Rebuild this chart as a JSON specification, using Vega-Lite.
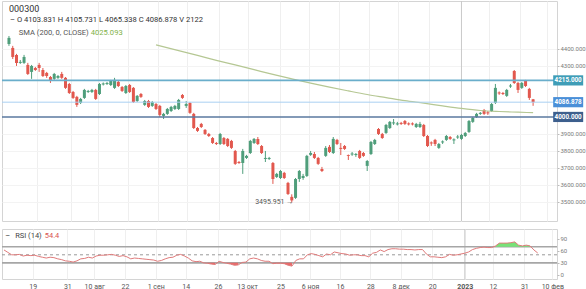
{
"$schema": "https://vega.github.io/schema/vega-lite/v6.json",
"padding": 0,
"background": "#ffffff",
"spacing": 6,
"config": {"font": "Roboto", "view": {"stroke": "#d4d4d4", "strokeWidth": 1}, "axis": {"labelFont": "Roboto", "gridColor": "#efefef", "gridWidth": 1, "labelOverlap": false}},
"datasets": {"k": [
{"i":0,"o":4429,"h":4476,"l":4418,"c":4465,"r":62},
{"i":1,"o":4406,"h":4418,"l":4341,"c":4353,"r":56},
{"i":2,"o":4365,"h":4371,"l":4300,"c":4318,"r":50},
{"i":3,"o":4318,"h":4335,"l":4312,"c":4324,"r":50},
{"i":4,"o":4318,"h":4365,"l":4312,"c":4353,"r":51},
{"i":5,"o":4306,"h":4318,"l":4247,"c":4253,"r":47},
{"i":6,"o":4265,"h":4306,"l":4224,"c":4300,"r":49},
{"i":7,"o":4288,"h":4294,"l":4271,"c":4276,"r":48},
{"i":8,"o":4306,"h":4318,"l":4265,"c":4288,"r":49},
{"i":9,"o":4276,"h":4288,"l":4235,"c":4241,"r":46},
{"i":10,"o":4259,"h":4265,"l":4230,"c":4241,"r":44},
{"i":11,"o":4235,"h":4241,"l":4200,"c":4212,"r":42},
{"i":12,"o":4224,"h":4259,"l":4218,"c":4253,"r":44},
{"i":13,"o":4230,"h":4247,"l":4224,"c":4241,"r":43},
{"i":14,"o":4253,"h":4265,"l":4224,"c":4230,"r":40},
{"i":15,"o":4230,"h":4235,"l":4165,"c":4171,"r":38},
{"i":16,"o":4194,"h":4200,"l":4135,"c":4141,"r":35},
{"i":17,"o":4147,"h":4153,"l":4106,"c":4112,"r":34},
{"i":18,"o":4118,"h":4124,"l":4059,"c":4071,"r":32},
{"i":19,"o":4082,"h":4112,"l":4076,"c":4106,"r":35},
{"i":20,"o":4112,"h":4165,"l":4106,"c":4159,"r":40},
{"i":21,"o":4147,"h":4159,"l":4141,"c":4153,"r":41},
{"i":22,"o":4147,"h":4165,"l":4141,"c":4159,"r":44},
{"i":23,"o":4159,"h":4165,"l":4100,"c":4106,"r":42},
{"i":24,"o":4135,"h":4200,"l":4129,"c":4194,"r":47},
{"i":25,"o":4191,"h":4203,"l":4185,"c":4197,"r":49},
{"i":26,"o":4194,"h":4206,"l":4188,"c":4200,"r":49},
{"i":27,"o":4188,"h":4218,"l":4182,"c":4212,"r":50},
{"i":28,"o":4171,"h":4230,"l":4165,"c":4218,"r":51},
{"i":29,"o":4206,"h":4212,"l":4176,"c":4182,"r":49},
{"i":30,"o":4176,"h":4182,"l":4147,"c":4153,"r":46},
{"i":31,"o":4141,"h":4188,"l":4135,"c":4182,"r":48},
{"i":32,"o":4188,"h":4194,"l":4141,"c":4147,"r":45},
{"i":33,"o":4171,"h":4176,"l":4082,"c":4088,"r":40},
{"i":34,"o":4094,"h":4129,"l":4088,"c":4124,"r":42},
{"i":35,"o":4135,"h":4141,"l":4112,"c":4118,"r":41},
{"i":36,"o":4071,"h":4100,"l":4065,"c":4094,"r":40},
{"i":37,"o":4094,"h":4100,"l":4053,"c":4059,"r":39},
{"i":38,"o":4065,"h":4094,"l":4059,"c":4088,"r":38},
{"i":39,"o":4076,"h":4082,"l":4041,"c":4047,"r":37,"s":4423.5},
{"i":40,"o":4065,"h":4071,"l":4000,"c":4012,"r":34},
{"i":41,"o":4006,"h":4024,"l":3988,"c":4018,"r":36},
{"i":42,"o":4018,"h":4053,"l":4012,"c":4047,"r":40},
{"i":43,"o":4035,"h":4065,"l":4029,"c":4059,"r":43},
{"i":44,"o":4047,"h":4071,"l":4041,"c":4065,"r":44},
{"i":45,"o":4047,"h":4106,"l":4041,"c":4100,"r":49,"s":4390},
{"i":46,"o":4129,"h":4135,"l":4106,"c":4112,"r":51},
{"i":47,"o":4065,"h":4094,"l":4053,"c":4076,"r":47},
{"i":48,"o":4082,"h":4088,"l":4018,"c":4024,"r":42},
{"i":49,"o":4018,"h":4024,"l":3929,"c":3935,"r":35},
{"i":50,"o":3935,"h":3941,"l":3912,"c":3918,"r":33,"s":4362},
{"i":51,"o":3959,"h":3965,"l":3935,"c":3941,"r":34},
{"i":52,"o":3924,"h":3929,"l":3894,"c":3900,"r":30},
{"i":53,"o":3900,"h":3906,"l":3882,"c":3888,"r":29},
{"i":54,"o":3876,"h":3882,"l":3841,"c":3847,"r":27},
{"i":55,"o":3847,"h":3853,"l":3835,"c":3841,"r":26,"s":4333},
{"i":56,"o":3841,"h":3906,"l":3835,"c":3900,"r":34},
{"i":57,"o":3876,"h":3882,"l":3835,"c":3841,"r":31},
{"i":58,"o":3871,"h":3876,"l":3823,"c":3829,"r":29},
{"i":59,"o":3859,"h":3865,"l":3812,"c":3818,"r":27},
{"i":60,"o":3800,"h":3806,"l":3718,"c":3724,"r":24,"s":4306},
{"i":61,"o":3735,"h":3741,"l":3724,"c":3729,"r":25},
{"i":62,"o":3729,"h":3812,"l":3665,"c":3800,"r":31},
{"i":63,"o":3759,"h":3777,"l":3753,"c":3771,"r":32},
{"i":64,"o":3788,"h":3865,"l":3782,"c":3859,"r":40},
{"i":65,"o":3847,"h":3876,"l":3841,"c":3871,"r":42,"s":4278},
{"i":66,"o":3871,"h":3882,"l":3835,"c":3841,"r":40},
{"i":67,"o":3829,"h":3835,"l":3782,"c":3788,"r":36},
{"i":68,"o":3753,"h":3800,"l":3735,"c":3759,"r":34},
{"i":69,"o":3753,"h":3765,"l":3747,"c":3759,"r":34},
{"i":70,"o":3729,"h":3735,"l":3606,"c":3635,"r":28,"s":4250},
{"i":71,"o":3647,"h":3671,"l":3641,"c":3665,"r":29},
{"i":72,"o":3641,"h":3688,"l":3635,"c":3682,"r":29},
{"i":73,"o":3671,"h":3677,"l":3635,"c":3641,"r":28},
{"i":74,"o":3612,"h":3618,"l":3541,"c":3547,"r":24},
{"i":75,"o":3530,"h":3545,"l":3496,"c":3509,"r":22,"s":4224},
{"i":76,"o":3524,"h":3641,"l":3518,"c":3635,"r":36},
{"i":77,"o":3635,"h":3688,"l":3618,"c":3682,"r":40},
{"i":78,"o":3641,"h":3665,"l":3630,"c":3653,"r":40},
{"i":79,"o":3653,"h":3777,"l":3647,"c":3771,"r":50},
{"i":80,"o":3777,"h":3800,"l":3771,"c":3788,"r":53,"s":4199},
{"i":81,"o":3782,"h":3794,"l":3753,"c":3759,"r":51},
{"i":82,"o":3759,"h":3765,"l":3718,"c":3724,"r":48},
{"i":83,"o":3694,"h":3706,"l":3676,"c":3682,"r":45},
{"i":84,"o":3771,"h":3829,"l":3765,"c":3818,"r":52},
{"i":85,"o":3824,"h":3835,"l":3788,"c":3794,"r":50,"s":4175},
{"i":86,"o":3788,"h":3882,"l":3782,"c":3871,"r":57},
{"i":87,"o":3865,"h":3871,"l":3835,"c":3841,"r":55},
{"i":88,"o":3818,"h":3847,"l":3776,"c":3812,"r":53},
{"i":89,"o":3829,"h":3835,"l":3806,"c":3812,"r":52},
{"i":90,"o":3776,"h":3779,"l":3747,"c":3771,"r":49,"s":4153},
{"i":91,"o":3779,"h":3794,"l":3771,"c":3785,"r":50},
{"i":92,"o":3776,"h":3788,"l":3765,"c":3782,"r":50},
{"i":93,"o":3800,"h":3806,"l":3753,"c":3759,"r":48},
{"i":94,"o":3788,"h":3794,"l":3765,"c":3771,"r":48},
{"i":95,"o":3712,"h":3747,"l":3682,"c":3741,"r":45,"s":4132},
{"i":96,"o":3782,"h":3859,"l":3776,"c":3853,"r":54},
{"i":97,"o":3841,"h":3871,"l":3835,"c":3865,"r":56},
{"i":98,"o":3929,"h":3935,"l":3894,"c":3900,"r":62},
{"i":99,"o":3900,"h":3906,"l":3871,"c":3876,"r":58},
{"i":100,"o":3906,"h":3959,"l":3900,"c":3953,"r":63,"s":4114},
{"i":101,"o":3935,"h":3976,"l":3929,"c":3971,"r":65},
{"i":102,"o":3962,"h":3988,"l":3953,"c":3968,"r":65},
{"i":103,"o":3956,"h":3971,"l":3950,"c":3962,"r":64},
{"i":104,"o":3965,"h":3971,"l":3953,"c":3959,"r":64},
{"i":105,"o":3976,"h":3982,"l":3953,"c":3959,"r":63,"s":4096},
{"i":106,"o":3962,"h":3968,"l":3950,"c":3956,"r":63},
{"i":107,"o":3962,"h":3968,"l":3950,"c":3956,"r":62},
{"i":108,"o":3941,"h":3965,"l":3935,"c":3959,"r":63},
{"i":109,"o":3941,"h":3971,"l":3935,"c":3959,"r":63},
{"i":110,"o":3953,"h":3959,"l":3882,"c":3888,"r":52,"s":4081},
{"i":111,"o":3888,"h":3894,"l":3823,"c":3829,"r":45},
{"i":112,"o":3850,"h":3856,"l":3830,"c":3844,"r":45},
{"i":113,"o":3865,"h":3871,"l":3829,"c":3841,"r":44},
{"i":114,"o":3818,"h":3847,"l":3812,"c":3841,"r":43},
{"i":115,"o":3850,"h":3862,"l":3841,"c":3856,"r":45,"s":4065},
{"i":116,"o":3865,"h":3894,"l":3859,"c":3888,"r":51},
{"i":117,"o":3882,"h":3888,"l":3865,"c":3871,"r":49},
{"i":118,"o":3862,"h":3874,"l":3841,"c":3868,"r":50},
{"i":119,"o":3879,"h":3894,"l":3871,"c":3885,"r":52},
{"i":120,"o":3871,"h":3900,"l":3865,"c":3894,"r":54,"s":4050},
{"i":121,"o":3888,"h":3912,"l":3882,"c":3906,"r":57},
{"i":122,"o":3912,"h":3982,"l":3906,"c":3976,"r":63},
{"i":123,"o":3971,"h":4000,"l":3965,"c":3994,"r":66},
{"i":124,"o":4000,"h":4024,"l":3994,"c":4018,"r":68},
{"i":125,"o":4018,"h":4029,"l":4012,"c":4024,"r":69,"s":4038},
{"i":126,"o":4041,"h":4047,"l":4012,"c":4018,"r":68},
{"i":127,"o":4027,"h":4035,"l":4012,"c":4021,"r":68},
{"i":128,"o":4035,"h":4082,"l":4029,"c":4076,"r":72},
{"i":129,"o":4082,"h":4194,"l":4076,"c":4171,"r":79},
{"i":130,"o":4144,"h":4150,"l":4130,"c":4138,"r":79,"s":4032},
{"i":131,"o":4141,"h":4147,"l":4129,"c":4135,"r":79},
{"i":132,"o":4124,"h":4165,"l":4118,"c":4159,"r":80},
{"i":133,"o":4179,"h":4194,"l":4171,"c":4185,"r":82},
{"i":134,"o":4271,"h":4276,"l":4194,"c":4200,"r":74},
{"i":135,"o":4200,"h":4206,"l":4141,"c":4159,"r":72,"s":4028},
{"i":136,"o":4171,"h":4206,"l":4165,"c":4200,"r":74},
{"i":137,"o":4212,"h":4218,"l":4176,"c":4182,"r":72},
{"i":138,"o":4165,"h":4171,"l":4100,"c":4112,"r":62},
{"i":139,"o":4103.831,"h":4105.731,"l":4065.338,"c":4086.878,"r":54.4,"s":4025.093}
]},
"vconcat": [
{
"width": 555, "height": 220,
"layer": [
{"data": {"values": [{}]}, "mark": {"type": "rule", "color": "#c9c9c9"},
 "encoding": {"x": {"datum": 120, "type": "quantitative", "scale": {"domain": [-0.521, 144.01], "nice": false, "zero": false}, "axis": {"values": [7.5,16.5,23.5,31.5,39.5,47.3,55.7,63.3,72,79.7,87.5,95.4,103.3,111.5,120,127.3,135.5,142.8], "labels": false, "ticks": false, "domain": false, "title": null, "grid": true, "labelOverlap": false}}}},
{"data": {"name": "k"}, "mark": {"type": "rule", "strokeWidth": 1},
 "encoding": {"x": {"field": "i", "type": "quantitative", "scale": {"domain": [-0.521, 144.01], "nice": false, "zero": false}, "axis": {"values": [7.5,16.5,23.5,31.5,39.5,47.3,55.7,63.3,72,79.7,87.5,95.4,103.3,111.5,120,127.3,135.5,142.8], "labels": false, "ticks": false, "domain": false, "title": null, "grid": true, "labelOverlap": false}},
   "y": {"field": "l", "type": "quantitative", "scale": {"domain": [3388, 4682], "nice": false, "zero": false}, "axis": {"orient": "right", "values": [3500,3600,3700,3800,3900,4300,4400], "format": ".3f", "title": null, "labelFontSize": 6, "labelColor": "#7a7a7a", "tickSize": 2, "tickColor": "#bbbbbb", "labelPadding": 1, "domain": false, "grid": true, "gridColor": "#f3f3f3", "labelOverlap": false}},
   "y2": {"field": "h"},
   "color": {"condition": {"test": "datum.c >= datum.o", "value": "#4f9e7b"}, "value": "#e2584e"}}},
{"data": {"name": "k"}, "mark": {"type": "bar", "size": 3},
 "encoding": {"x": {"field": "i", "type": "quantitative", "scale": {"domain": [-0.521, 144.01], "nice": false, "zero": false}, "axis": {"values": [7.5,16.5,23.5,31.5,39.5,47.3,55.7,63.3,72,79.7,87.5,95.4,103.3,111.5,120,127.3,135.5,142.8], "labels": false, "ticks": false, "domain": false, "title": null, "grid": true, "labelOverlap": false}},
   "y": {"field": "o", "type": "quantitative", "scale": {"domain": [3388, 4682], "nice": false, "zero": false}, "axis": {"orient": "right", "values": [3500,3600,3700,3800,3900,4300,4400], "format": ".3f", "title": null, "labelFontSize": 6, "labelColor": "#7a7a7a", "tickSize": 2, "tickColor": "#bbbbbb", "labelPadding": 1, "domain": false, "grid": true, "gridColor": "#f3f3f3", "labelOverlap": false}},
   "y2": {"field": "c"},
   "color": {"condition": {"test": "datum.c >= datum.o", "value": "#4f9e7b"}, "value": "#e2584e"}}},
{"data": {"name": "k"}, "mark": {"type": "line", "color": "#b5c793", "strokeWidth": 1.2, "interpolate": "monotone"},
 "transform": [{"filter": "isValid(datum.s)"}],
 "encoding": {"x": {"field": "i", "type": "quantitative", "scale": {"domain": [-0.521, 144.01], "nice": false, "zero": false}, "axis": {"values": [7.5,16.5,23.5,31.5,39.5,47.3,55.7,63.3,72,79.7,87.5,95.4,103.3,111.5,120,127.3,135.5,142.8], "labels": false, "ticks": false, "domain": false, "title": null, "grid": true, "labelOverlap": false}},
   "y": {"field": "s", "type": "quantitative", "scale": {"domain": [3388, 4682], "nice": false, "zero": false}, "axis": {"orient": "right", "values": [3500,3600,3700,3800,3900,4300,4400], "format": ".3f", "title": null, "labelFontSize": 6, "labelColor": "#7a7a7a", "tickSize": 2, "tickColor": "#bbbbbb", "labelPadding": 1, "domain": false, "grid": true, "gridColor": "#f3f3f3", "labelOverlap": false}}}},
{"data": {"values": [{"v": 4215, "t": "4215.000", "k": "a"}, {"v": 4086.878, "t": "4086.878", "k": "p"}, {"v": 4000, "t": "4000.000", "k": "b"}]},
 "mark": {"type": "rule"},
 "encoding": {"y": {"field": "v", "type": "quantitative", "scale": {"domain": [3388, 4682], "nice": false, "zero": false}, "axis": {"orient": "right", "values": [3500,3600,3700,3800,3900,4300,4400], "format": ".3f", "title": null, "labelFontSize": 6, "labelColor": "#7a7a7a", "tickSize": 2, "tickColor": "#bbbbbb", "labelPadding": 1, "domain": false, "grid": true, "gridColor": "#f3f3f3", "labelOverlap": false}},
   "stroke": {"condition": [{"test": "datum.k == 'a'", "value": "#6aaecb"}, {"test": "datum.k == 'p'", "value": "#a9d0f2"}], "value": "#5a789f"},
   "strokeWidth": {"condition": {"test": "datum.k == 'p'", "value": 1}, "value": 1.6}}},
{"data": {"values": [{"v": 4215, "t": "4215.000", "k": "a"}, {"v": 4086.878, "t": "4086.878", "k": "p"}, {"v": 4000, "t": "4000.000", "k": "b"}]},
 "mark": {"type": "point", "shape": "M-1,-0.34L1,-0.34L1,0.34L-1,0.34Z", "filled": true, "size": 900, "opacity": 1, "strokeWidth": 0},
 "encoding": {"x": {"datum": 148.3, "type": "quantitative", "scale": {"domain": [-0.521, 144.01], "nice": false, "zero": false}, "axis": {"values": [7.5,16.5,23.5,31.5,39.5,47.3,55.7,63.3,72,79.7,87.5,95.4,103.3,111.5,120,127.3,135.5,142.8], "labels": false, "ticks": false, "domain": false, "title": null, "grid": true, "labelOverlap": false}},
   "y": {"field": "v", "type": "quantitative", "scale": {"domain": [3388, 4682], "nice": false, "zero": false}, "axis": {"orient": "right", "values": [3500,3600,3700,3800,3900,4300,4400], "format": ".3f", "title": null, "labelFontSize": 6, "labelColor": "#7a7a7a", "tickSize": 2, "tickColor": "#bbbbbb", "labelPadding": 1, "domain": false, "grid": true, "gridColor": "#f3f3f3", "labelOverlap": false}},
   "fill": {"condition": [{"test": "datum.k == 'a'", "value": "#3f9db7"}, {"test": "datum.k == 'p'", "value": "#4a8fd8"}], "value": "#3d5f8d"}}},
{"data": {"values": [{"v": 4215, "t": "4215.000", "k": "a"}, {"v": 4086.878, "t": "4086.878", "k": "p"}, {"v": 4000, "t": "4000.000", "k": "b"}]},
 "mark": {"type": "text", "color": "#ffffff", "fontSize": 6.3, "fontWeight": "bold"},
 "encoding": {"x": {"datum": 148.3, "type": "quantitative", "scale": {"domain": [-0.521, 144.01], "nice": false, "zero": false}, "axis": {"values": [7.5,16.5,23.5,31.5,39.5,47.3,55.7,63.3,72,79.7,87.5,95.4,103.3,111.5,120,127.3,135.5,142.8], "labels": false, "ticks": false, "domain": false, "title": null, "grid": true, "labelOverlap": false}},
   "y": {"field": "v", "type": "quantitative", "scale": {"domain": [3388, 4682], "nice": false, "zero": false}, "axis": {"orient": "right", "values": [3500,3600,3700,3800,3900,4300,4400], "format": ".3f", "title": null, "labelFontSize": 6, "labelColor": "#7a7a7a", "tickSize": 2, "tickColor": "#bbbbbb", "labelPadding": 1, "domain": false, "grid": true, "gridColor": "#f3f3f3", "labelOverlap": false}},
   "text": {"field": "t"}}},
{"data": {"values": [{"t": "3495.951 →", "x": 75.4, "y": 3497}]},
 "mark": {"type": "text", "align": "right", "fontSize": 7, "color": "#555555"},
 "encoding": {"x": {"field": "x", "type": "quantitative", "scale": {"domain": [-0.521, 144.01], "nice": false, "zero": false}, "axis": {"values": [7.5,16.5,23.5,31.5,39.5,47.3,55.7,63.3,72,79.7,87.5,95.4,103.3,111.5,120,127.3,135.5,142.8], "labels": false, "ticks": false, "domain": false, "title": null, "grid": true, "labelOverlap": false}},
   "y": {"field": "y", "type": "quantitative", "scale": {"domain": [3388, 4682], "nice": false, "zero": false}, "axis": {"orient": "right", "values": [3500,3600,3700,3800,3900,4300,4400], "format": ".3f", "title": null, "labelFontSize": 6, "labelColor": "#7a7a7a", "tickSize": 2, "tickColor": "#bbbbbb", "labelPadding": 1, "domain": false, "grid": true, "gridColor": "#f3f3f3", "labelOverlap": false}},
   "text": {"field": "t"}}},
{"data": {"values": [{"t": "000300", "x": 0, "y": 4635, "z": "title"}, {"t": "–  O 4103.831  H 4105.731  L 4065.338  C 4086.878  V 2122", "x": 0.3, "y": 4570, "z": "ohlc"}, {"t": "SMA (200, 0, CLOSE)", "x": 2.6, "y": 4494, "z": "sma"}, {"t": "4025.093", "x": 21.7, "y": 4494, "z": "smav"}]},
 "mark": {"type": "text", "align": "left"},
 "encoding": {"x": {"field": "x", "type": "quantitative", "scale": {"domain": [-0.521, 144.01], "nice": false, "zero": false}, "axis": {"values": [7.5,16.5,23.5,31.5,39.5,47.3,55.7,63.3,72,79.7,87.5,95.4,103.3,111.5,120,127.3,135.5,142.8], "labels": false, "ticks": false, "domain": false, "title": null, "grid": true, "labelOverlap": false}},
   "y": {"field": "y", "type": "quantitative", "scale": {"domain": [3388, 4682], "nice": false, "zero": false}, "axis": {"orient": "right", "values": [3500,3600,3700,3800,3900,4300,4400], "format": ".3f", "title": null, "labelFontSize": 6, "labelColor": "#7a7a7a", "tickSize": 2, "tickColor": "#bbbbbb", "labelPadding": 1, "domain": false, "grid": true, "gridColor": "#f3f3f3", "labelOverlap": false}},
   "text": {"field": "t"},
   "color": {"condition": [{"test": "datum.z == 'smav'", "value": "#7fb24a"}, {"test": "datum.z == 'sma'", "value": "#555555"}], "value": "#333333"},
   "size": {"condition": {"test": "datum.z == 'title'", "value": 9}, "value": 7.6}}}
]
},
{
"width": 555, "height": 50,
"layer": [
{"data": {"values": [{}]}, "mark": {"type": "rule", "color": "#c9c9c9"},
 "encoding": {"x": {"datum": 120, "type": "quantitative", "scale": {"domain": [-0.521, 144.01], "nice": false, "zero": false},
   "axis": {"values": [7.5,16.5,23.5,31.5,39.5,47.3,55.7,63.3,72,79.7,87.5,95.4,103.3,111.5,120,127.3,135.5,142.8], "labelExpr": "['19','31','10 авг','22','1 сен','14','26','13 окт','25','6 ноя','16','28','8 дек','20','2023','12','31','10 фев'][indexof([7.5,16.5,23.5,31.5,39.5,47.3,55.7,63.3,72,79.7,87.5,95.4,103.3,111.5,120,127.3,135.5,142.8], datum.value)]", "labelFontWeight": {"condition": {"test": "datum.value == 120", "value": "bold"}, "value": "normal"}, "ticks": false, "domain": false, "title": null, "grid": true, "labelFontSize": 7, "labelColor": "#555555", "labelPadding": 3, "labelFlush": false, "labelOverlap": false}}}},
{"data": {"values": [{"v": 70, "z": "s"}, {"v": 30, "z": "s"}, {"v": 50, "z": "d"}]}, "mark": {"type": "rule"},
 "encoding": {"y": {"field": "v", "type": "quantitative", "scale": {"domain": [-10, 114], "nice": false, "zero": false}, "axis": {"orient": "right", "values": [0, 30, 60, 90], "title": null, "labelFontSize": 6, "labelColor": "#7a7a7a", "tickSize": 2, "tickColor": "#bbbbbb", "labelPadding": 1, "domain": false, "grid": false, "labelOverlap": false}},
   "stroke": {"condition": {"test": "datum.z == 'd'", "value": "#999999"}, "value": "#a6a6a6"},
   "strokeWidth": {"condition": {"test": "datum.z == 'd'", "value": 1}, "value": 1.6},
   "strokeDash": {"condition": {"test": "datum.z == 'd'", "value": [3, 3]}, "value": [1, 0]}}},
{"data": {"name": "k"}, "transform": [{"filter": "datum.r > 70"}], "mark": {"type": "area", "color": "#78e278", "opacity": 1},
 "encoding": {"x": {"field": "i", "type": "quantitative", "scale": {"domain": [-0.521, 144.01], "nice": false, "zero": false},
   "axis": {"values": [7.5,16.5,23.5,31.5,39.5,47.3,55.7,63.3,72,79.7,87.5,95.4,103.3,111.5,120,127.3,135.5,142.8], "labelExpr": "['19','31','10 авг','22','1 сен','14','26','13 окт','25','6 ноя','16','28','8 дек','20','2023','12','31','10 фев'][indexof([7.5,16.5,23.5,31.5,39.5,47.3,55.7,63.3,72,79.7,87.5,95.4,103.3,111.5,120,127.3,135.5,142.8], datum.value)]", "labelFontWeight": {"condition": {"test": "datum.value == 120", "value": "bold"}, "value": "normal"}, "ticks": false, "domain": false, "title": null, "grid": true, "labelFontSize": 7, "labelColor": "#555555", "labelPadding": 3, "labelFlush": false, "labelOverlap": false}},
   "y": {"field": "r", "type": "quantitative", "scale": {"domain": [-10, 114], "nice": false, "zero": false}, "axis": {"orient": "right", "values": [0, 30, 60, 90], "title": null, "labelFontSize": 6, "labelColor": "#7a7a7a", "tickSize": 2, "tickColor": "#bbbbbb", "labelPadding": 1, "domain": false, "grid": false, "labelOverlap": false}},
   "y2": {"datum": 70}}},
{"data": {"name": "k"}, "transform": [{"filter": "datum.r < 30 && datum.i >= 50 && datum.i <= 56"}], "mark": {"type": "area", "color": "#e86a6a", "opacity": 1},
 "encoding": {"x": {"field": "i", "type": "quantitative", "scale": {"domain": [-0.521, 144.01], "nice": false, "zero": false},
   "axis": {"values": [7.5,16.5,23.5,31.5,39.5,47.3,55.7,63.3,72,79.7,87.5,95.4,103.3,111.5,120,127.3,135.5,142.8], "labelExpr": "['19','31','10 авг','22','1 сен','14','26','13 окт','25','6 ноя','16','28','8 дек','20','2023','12','31','10 фев'][indexof([7.5,16.5,23.5,31.5,39.5,47.3,55.7,63.3,72,79.7,87.5,95.4,103.3,111.5,120,127.3,135.5,142.8], datum.value)]", "labelFontWeight": {"condition": {"test": "datum.value == 120", "value": "bold"}, "value": "normal"}, "ticks": false, "domain": false, "title": null, "grid": true, "labelFontSize": 7, "labelColor": "#555555", "labelPadding": 3, "labelFlush": false, "labelOverlap": false}},
   "y": {"field": "r", "type": "quantitative", "scale": {"domain": [-10, 114], "nice": false, "zero": false}, "axis": {"orient": "right", "values": [0, 30, 60, 90], "title": null, "labelFontSize": 6, "labelColor": "#7a7a7a", "tickSize": 2, "tickColor": "#bbbbbb", "labelPadding": 1, "domain": false, "grid": false, "labelOverlap": false}},
   "y2": {"datum": 30}}},
{"data": {"name": "k"}, "transform": [{"filter": "datum.r < 30 && datum.i >= 57 && datum.i <= 63"}], "mark": {"type": "area", "color": "#e86a6a", "opacity": 1},
 "encoding": {"x": {"field": "i", "type": "quantitative", "scale": {"domain": [-0.521, 144.01], "nice": false, "zero": false},
   "axis": {"values": [7.5,16.5,23.5,31.5,39.5,47.3,55.7,63.3,72,79.7,87.5,95.4,103.3,111.5,120,127.3,135.5,142.8], "labelExpr": "['19','31','10 авг','22','1 сен','14','26','13 окт','25','6 ноя','16','28','8 дек','20','2023','12','31','10 фев'][indexof([7.5,16.5,23.5,31.5,39.5,47.3,55.7,63.3,72,79.7,87.5,95.4,103.3,111.5,120,127.3,135.5,142.8], datum.value)]", "labelFontWeight": {"condition": {"test": "datum.value == 120", "value": "bold"}, "value": "normal"}, "ticks": false, "domain": false, "title": null, "grid": true, "labelFontSize": 7, "labelColor": "#555555", "labelPadding": 3, "labelFlush": false, "labelOverlap": false}},
   "y": {"field": "r", "type": "quantitative", "scale": {"domain": [-10, 114], "nice": false, "zero": false}, "axis": {"orient": "right", "values": [0, 30, 60, 90], "title": null, "labelFontSize": 6, "labelColor": "#7a7a7a", "tickSize": 2, "tickColor": "#bbbbbb", "labelPadding": 1, "domain": false, "grid": false, "labelOverlap": false}},
   "y2": {"datum": 30}}},
{"data": {"name": "k"}, "transform": [{"filter": "datum.r < 30 && datum.i >= 68 && datum.i <= 76"}], "mark": {"type": "area", "color": "#e86a6a", "opacity": 1},
 "encoding": {"x": {"field": "i", "type": "quantitative", "scale": {"domain": [-0.521, 144.01], "nice": false, "zero": false},
   "axis": {"values": [7.5,16.5,23.5,31.5,39.5,47.3,55.7,63.3,72,79.7,87.5,95.4,103.3,111.5,120,127.3,135.5,142.8], "labelExpr": "['19','31','10 авг','22','1 сен','14','26','13 окт','25','6 ноя','16','28','8 дек','20','2023','12','31','10 фев'][indexof([7.5,16.5,23.5,31.5,39.5,47.3,55.7,63.3,72,79.7,87.5,95.4,103.3,111.5,120,127.3,135.5,142.8], datum.value)]", "labelFontWeight": {"condition": {"test": "datum.value == 120", "value": "bold"}, "value": "normal"}, "ticks": false, "domain": false, "title": null, "grid": true, "labelFontSize": 7, "labelColor": "#555555", "labelPadding": 3, "labelFlush": false, "labelOverlap": false}},
   "y": {"field": "r", "type": "quantitative", "scale": {"domain": [-10, 114], "nice": false, "zero": false}, "axis": {"orient": "right", "values": [0, 30, 60, 90], "title": null, "labelFontSize": 6, "labelColor": "#7a7a7a", "tickSize": 2, "tickColor": "#bbbbbb", "labelPadding": 1, "domain": false, "grid": false, "labelOverlap": false}},
   "y2": {"datum": 30}}},
{"data": {"name": "k"}, "mark": {"type": "line", "color": "#e07b7b", "strokeWidth": 1},
 "encoding": {"x": {"field": "i", "type": "quantitative", "scale": {"domain": [-0.521, 144.01], "nice": false, "zero": false},
   "axis": {"values": [7.5,16.5,23.5,31.5,39.5,47.3,55.7,63.3,72,79.7,87.5,95.4,103.3,111.5,120,127.3,135.5,142.8], "labelExpr": "['19','31','10 авг','22','1 сен','14','26','13 окт','25','6 ноя','16','28','8 дек','20','2023','12','31','10 фев'][indexof([7.5,16.5,23.5,31.5,39.5,47.3,55.7,63.3,72,79.7,87.5,95.4,103.3,111.5,120,127.3,135.5,142.8], datum.value)]", "labelFontWeight": {"condition": {"test": "datum.value == 120", "value": "bold"}, "value": "normal"}, "ticks": false, "domain": false, "title": null, "grid": true, "labelFontSize": 7, "labelColor": "#555555", "labelPadding": 3, "labelFlush": false, "labelOverlap": false}},
   "y": {"field": "r", "type": "quantitative", "scale": {"domain": [-10, 114], "nice": false, "zero": false}, "axis": {"orient": "right", "values": [0, 30, 60, 90], "title": null, "labelFontSize": 6, "labelColor": "#7a7a7a", "tickSize": 2, "tickColor": "#bbbbbb", "labelPadding": 1, "domain": false, "grid": false, "labelOverlap": false}}}},
{"data": {"values": [{"t": "–", "x": 0.3, "y": 97, "z": "dash"}, {"t": "RSI (14)", "x": 2.9, "y": 97, "z": "name"}, {"t": "54.4", "x": 10.6, "y": 97, "z": "val"}]},
 "mark": {"type": "text", "align": "left", "fontSize": 7.5},
 "encoding": {"x": {"field": "x", "type": "quantitative", "scale": {"domain": [-0.521, 144.01], "nice": false, "zero": false},
   "axis": {"values": [7.5,16.5,23.5,31.5,39.5,47.3,55.7,63.3,72,79.7,87.5,95.4,103.3,111.5,120,127.3,135.5,142.8], "labelExpr": "['19','31','10 авг','22','1 сен','14','26','13 окт','25','6 ноя','16','28','8 дек','20','2023','12','31','10 фев'][indexof([7.5,16.5,23.5,31.5,39.5,47.3,55.7,63.3,72,79.7,87.5,95.4,103.3,111.5,120,127.3,135.5,142.8], datum.value)]", "labelFontWeight": {"condition": {"test": "datum.value == 120", "value": "bold"}, "value": "normal"}, "ticks": false, "domain": false, "title": null, "grid": true, "labelFontSize": 7, "labelColor": "#555555", "labelPadding": 3, "labelFlush": false, "labelOverlap": false}},
   "y": {"field": "y", "type": "quantitative", "scale": {"domain": [-10, 114], "nice": false, "zero": false}, "axis": {"orient": "right", "values": [0, 30, 60, 90], "title": null, "labelFontSize": 6, "labelColor": "#7a7a7a", "tickSize": 2, "tickColor": "#bbbbbb", "labelPadding": 1, "domain": false, "grid": false, "labelOverlap": false}},
   "text": {"field": "t"},
   "color": {"condition": [{"test": "datum.z == 'val'", "value": "#d9534f"}, {"test": "datum.z == 'name'", "value": "#444444"}], "value": "#333333"}}}
]
}
]
}
